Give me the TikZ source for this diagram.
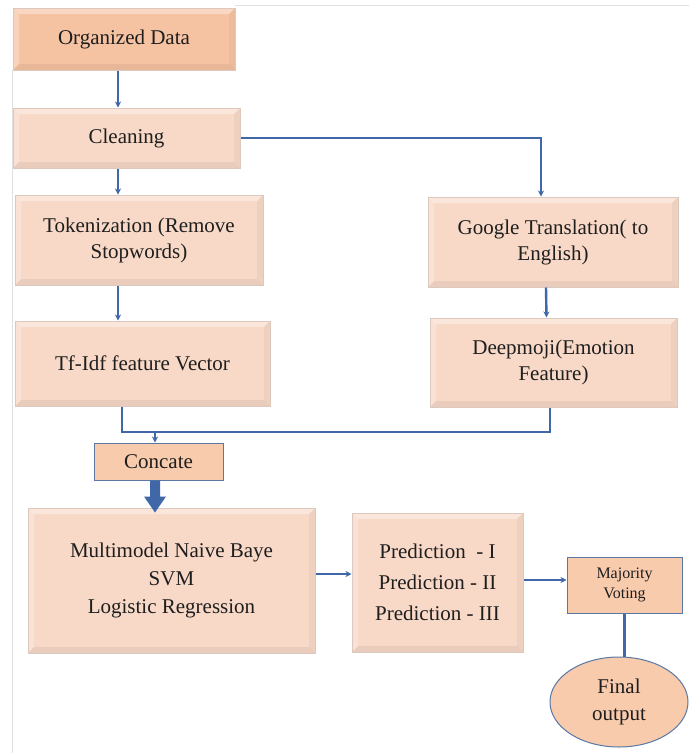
\documentclass[tikz,border=0pt]{standalone}
\usepackage{fontspec}
\setmainfont{Liberation Serif}
\usetikzlibrary{arrows.meta,shapes.geometric,calc}
\definecolor{peach}{HTML}{F8D9C7}
\definecolor{peachdark}{HTML}{F6C3A2}
\definecolor{salmon}{HTML}{F8CBAD}
\definecolor{bevel}{HTML}{DCC8BC}
\definecolor{conn}{HTML}{4068A8}
\definecolor{bord}{HTML}{5A78A4}
\definecolor{txt}{HTML}{1E1E1E}
\begin{document}
\begin{tikzpicture}[x=1pt,y=-1pt,
  bevelbox/.style={rectangle,fill=peach,draw=bevel,line width=1pt,align=center,text=txt,
     inner sep=0pt,font=\fontsize{21}{26}\selectfont,
     path picture={
       \coordinate (bnw) at (path picture bounding box.north west);
       \coordinate (bse) at (path picture bounding box.south east);
       \coordinate (bne) at (path picture bounding box.north east);
       \coordinate (bsw) at (path picture bounding box.south west);
       \fill[white,opacity=0.35] (bnw) -- (bne) -- ($(bne)+(-6,6)$) -- ($(bnw)+(6,6)$) -- cycle;
       \fill[white,opacity=0.25] (bnw) -- (bsw) -- ($(bsw)+(6,-6)$) -- ($(bnw)+(6,6)$) -- cycle;
       \fill[black,opacity=0.06] (bse) -- (bsw) -- ($(bsw)+(6,-6)$) -- ($(bse)+(-6,-6)$) -- cycle;
       \fill[black,opacity=0.04] (bse) -- (bne) -- ($(bne)+(-6,6)$) -- ($(bse)+(-6,-6)$) -- cycle;
     }},
  flatbox/.style={rectangle,fill=salmon,draw=bord,line width=1pt,align=center,text=txt,inner sep=0pt},
  arr/.style={draw=conn,line width=2.4pt,-{Stealth[length=6pt,width=6pt]}},
  ln/.style={draw=conn,line width=2.4pt},
  frame/.style={draw=black!12,line width=0.8pt}]
\useasboundingbox (0,0) rectangle (689,753);
\fill[white] (0,0) rectangle (689,753);
\draw[frame] (12,70) -- (12,753);
\draw[frame] (235,5) -- (689,5);

\node[bevelbox,fill=peachdark,minimum width=222pt,minimum height=62pt] (od) at (124,39) {Organized Data};
\node[bevelbox,minimum width=227pt,minimum height=60pt] (cl) at (126.5,138) {Cleaning};
\node[bevelbox,minimum width=248pt,minimum height=90pt] (tk) at (139,240) {Tokenization (Remove\\Stopwords)};
\node[bevelbox,minimum width=255pt,minimum height=85pt] (tf) at (142.5,363.5) {Tf-Idf feature Vector};
\node[bevelbox,minimum width=250pt,minimum height=90pt] (gt) at (553,242) {Google Translation( to\\English)};
\node[bevelbox,minimum width=247pt,minimum height=89pt] (dm) at (553.5,362.5) {Deepmoji(Emotion\\Feature)};
\node[flatbox,minimum width=129pt,minimum height=37pt,font=\fontsize{21}{26}\selectfont] (cc) at (158.5,461.5) {Concate};
\node[bevelbox,minimum width=287pt,minimum height=145pt,font=\fontsize{21}{28}\selectfont] (mm) at (171.5,580.5) {Multimodel Naive Baye\\SVM\\Logistic Regression};
\node[bevelbox,minimum width=171pt,minimum height=139pt,font=\fontsize{21}{31}\selectfont] (pr) at (437.5,582.5) {Prediction\ \ - I\\Prediction - II\\Prediction - III};
\node[flatbox,minimum width=115pt,minimum height=56pt,font=\fontsize{16}{20}\selectfont] (mv) at (624.5,585) {Majority\\Voting};
\node[ellipse,fill=salmon,draw=bord,line width=1pt,minimum width=138pt,minimum height=90pt,inner sep=0pt,align=center,text=txt,font=\fontsize{21}{27}\selectfont] (fo) at (619,702) {Final\\output};

\coordinate (xcol) at (118,0);
\coordinate (jn) at (155,432);

\draw[arr] (od.south -| xcol) -- (cl.north -| xcol);
\draw[arr] (cl.south -| xcol) -- (tk.north -| xcol);
\draw[arr] (tk.south -| xcol) -- (tf.north -| xcol);
\draw[arr] (cl.east) -| ([xshift=-12pt]gt.north);
\draw[arr] ([xshift=-7pt]gt.south) -- ([xshift=-7pt]dm.north);
\draw[ln] ([xshift=-20.5pt]tf.south) |- (jn) -| ([xshift=-3.5pt]dm.south);
\draw[arr] (jn) -- (cc.north -| jn);
\fill[conn] ($(cc.south)+(-8.5,0)$) -- ($(cc.south)+(1.5,0)$) -- ($(cc.south)+(1.5,16)$)
  -- ($(cc.south)+(7.5,16)$) -- ($(cc.south)+(-3.5,32)$) -- ($(cc.south)+(-14.5,16)$)
  -- ($(cc.south)+(-8.5,16)$) -- cycle;
\draw[arr] ([yshift=6.5pt]mm.east) -- ([yshift=6.5pt]mm.east -| pr.west);
\draw[arr] ([yshift=2.5pt]pr.east) -- ([yshift=2.5pt]pr.east -| mv.west);
\draw[ln] (mv.south) -- (mv.south |- fo.north);
\end{tikzpicture}
\end{document}
